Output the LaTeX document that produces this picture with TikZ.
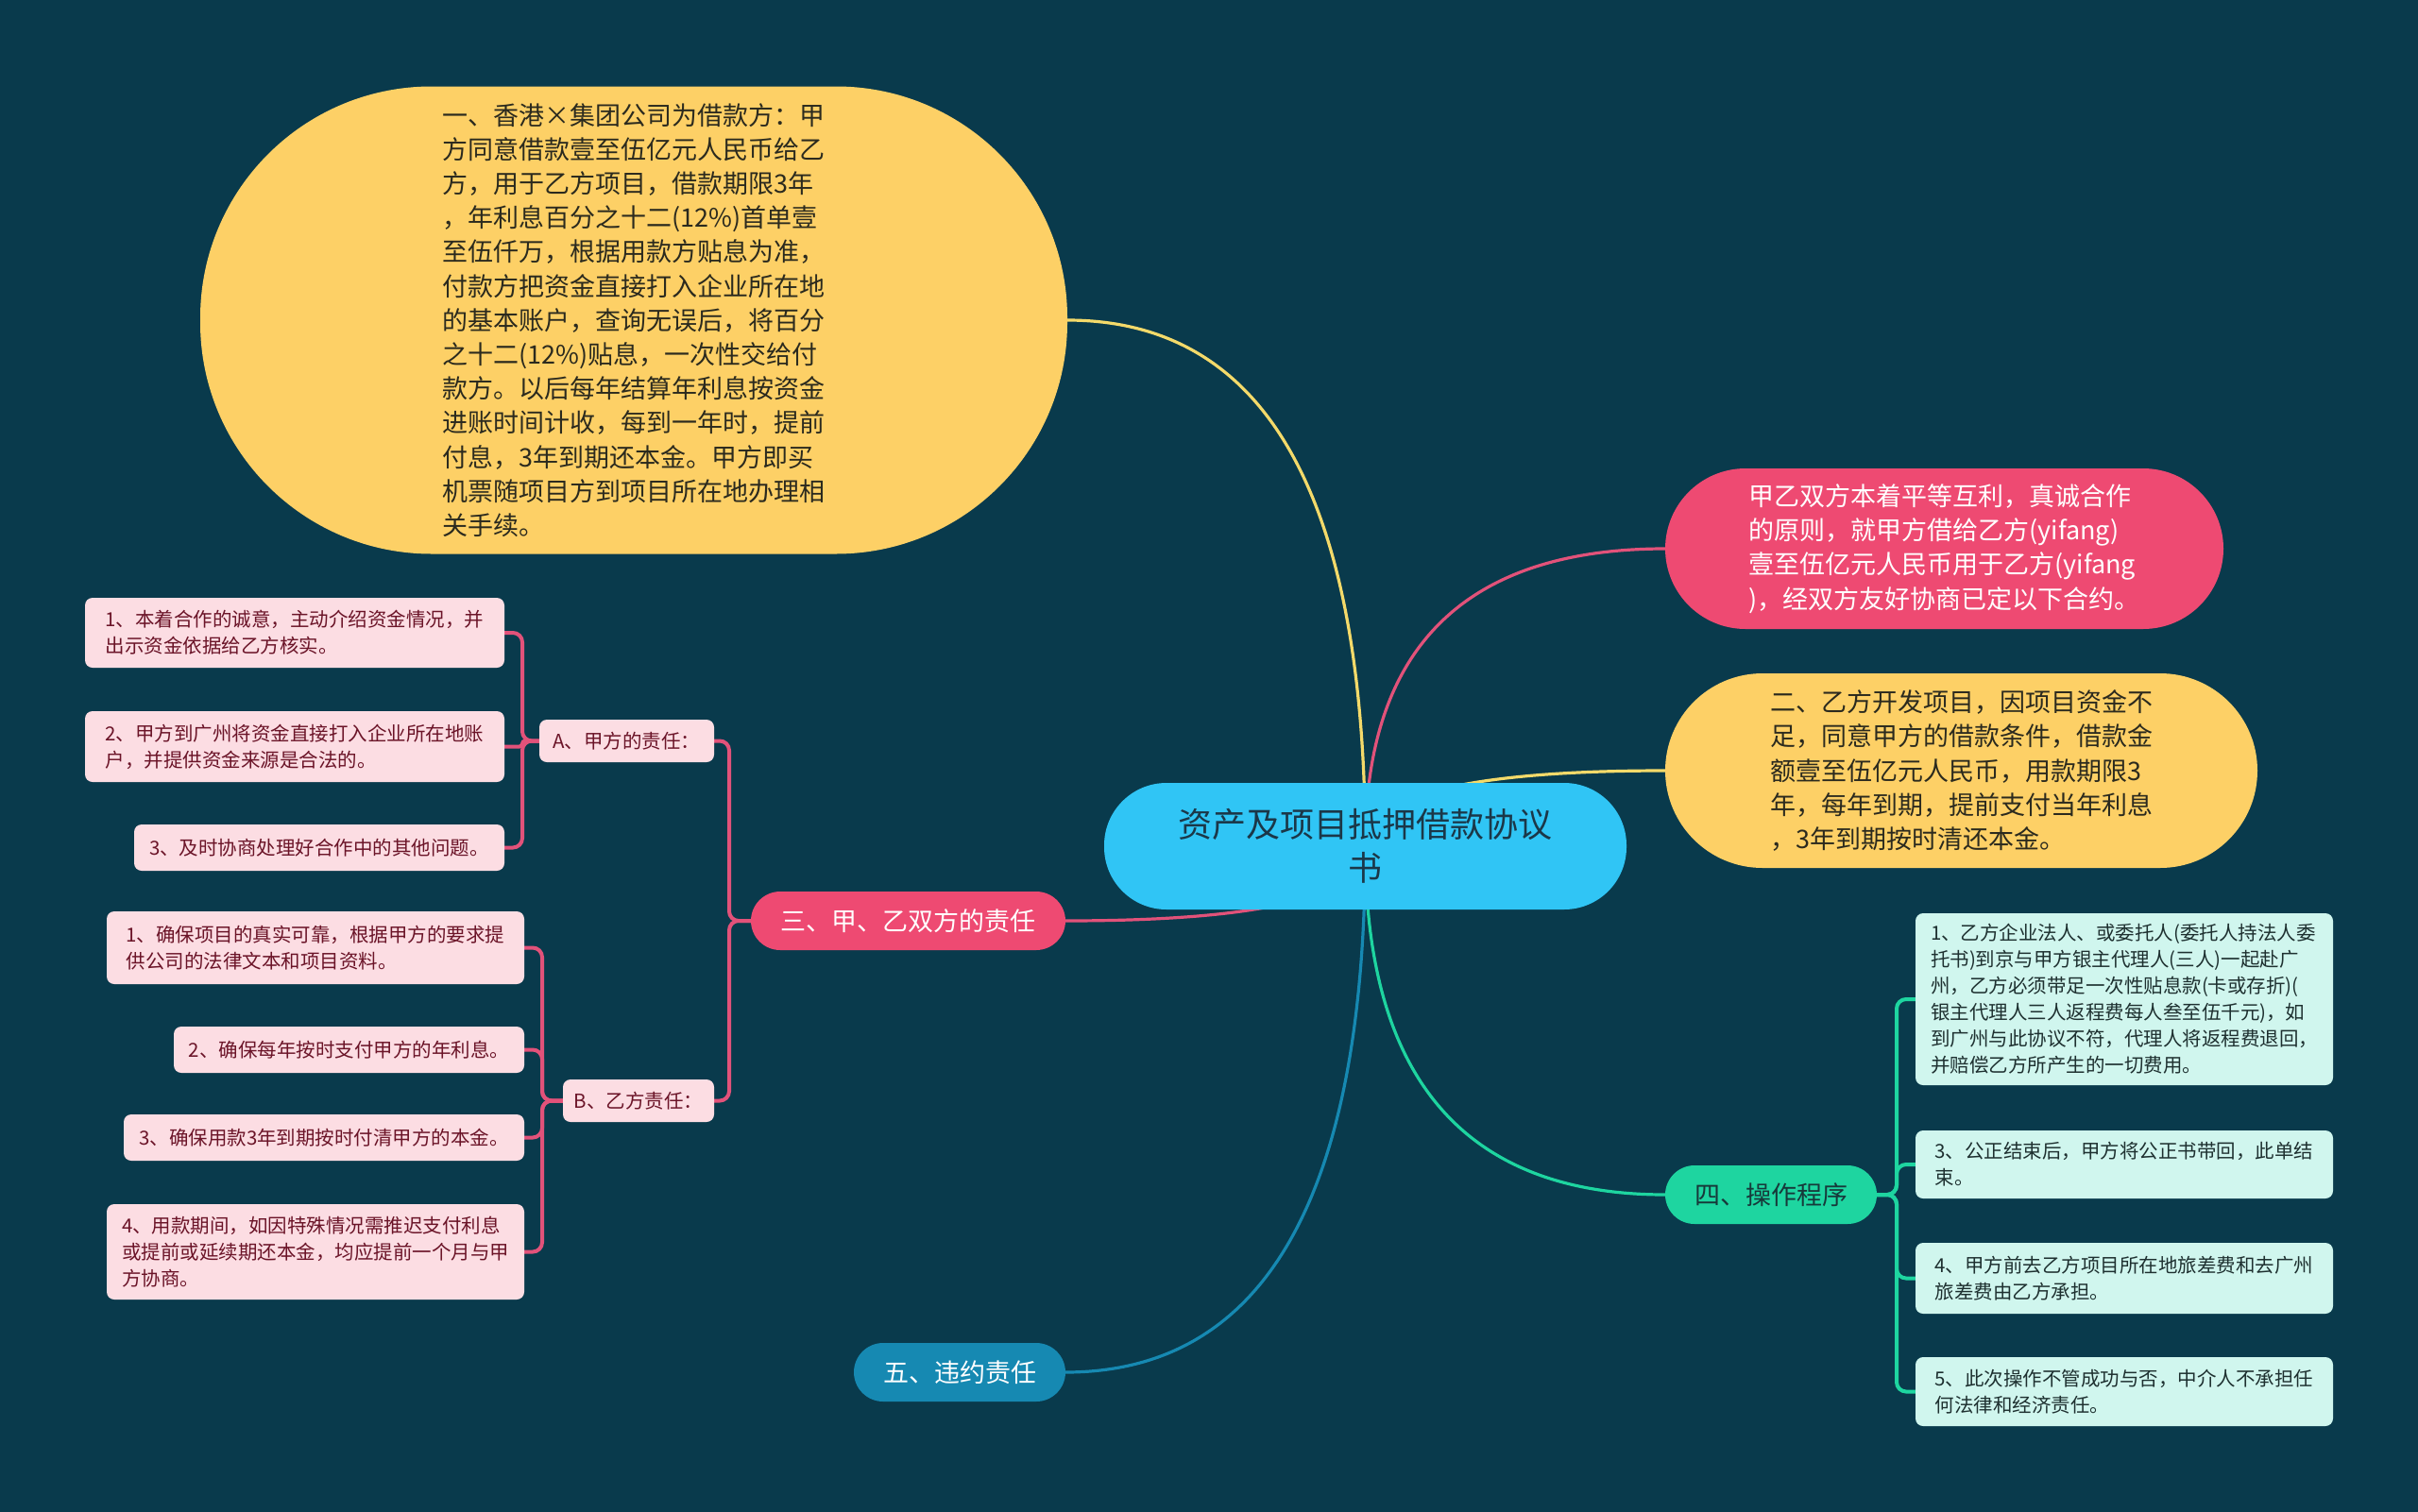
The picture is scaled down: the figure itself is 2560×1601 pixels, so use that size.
\documentclass[tikz,border=0pt]{standalone}
\usepackage{fontspec}
\setmainfont{Noto Sans CJK SC}
\usetikzlibrary{calc}
\definecolor{bgc}{HTML}{093A4C}
\definecolor{rootc}{HTML}{30C5F5}
\definecolor{roottxt}{HTML}{1B3748}
\definecolor{yelc}{HTML}{FDD066}
\definecolor{yeltxt}{HTML}{2B2A1E}
\definecolor{pinkc}{HTML}{EE4A72}
\definecolor{greenc}{HTML}{1ED5A0}
\definecolor{greentxt}{HTML}{17393A}
\definecolor{bluec}{HTML}{1689B2}
\definecolor{lpinkc}{HTML}{FCDDE3}
\definecolor{lpinktxt}{HTML}{6B1428}
\definecolor{mintc}{HTML}{D0F6EE}
\definecolor{minttxt}{HTML}{1E3030}
\definecolor{conY}{HTML}{F4DA6A}
\definecolor{conP}{HTML}{E2527A}
\definecolor{conG}{HTML}{1ED5A0}
\definecolor{conB}{HTML}{1689B2}
\pgfdeclarelayer{bglayer}
\pgfsetlayers{bglayer,main}
\tikzset{
  base/.style={inner sep=0pt, outer sep=0pt},
  rootnode/.style={base, fill=rootc, text=roottxt, align=center, rounded corners=66pt,
    minimum width=553pt, minimum height=134pt, font=\fontsize{36}{46}\selectfont},
  bigbox/.style={base, align=left, font=\fontsize{27}{36.2}\selectfont},
  lvltwo/.style={base, align=center, minimum height=62pt, rounded corners=31pt,
    font=\fontsize{27}{34}\selectfont},
  lvlthree/.style={base, align=left, rounded corners=8pt, font=\fontsize{20.5}{28}\selectfont},
  pinkleaf/.style={lvlthree, fill=lpinkc, text=lpinktxt},
  mintleaf/.style={lvlthree, fill=mintc, text=minttxt},
  mainlink/.style={line width=3.2pt, line cap=round},
  sublink/.style={line width=4pt, rounded corners=10pt},
}
\begin{document}
\begin{tikzpicture}[x=1pt,y=-1pt]
\useasboundingbox (0,0) rectangle (2560,1601);

% root
\node[rootnode] (root) at (1445.5,896) {资产及项目抵押借款协议\\书};

% level 1 big nodes
\node[bigbox, fill=yelc, text=yeltxt, minimum width=918pt, minimum height=495pt,
  rounded corners=245pt] (y1) at (671,339) {一、香港×集团公司为借款方：甲\\
方同意借款壹至伍亿元人民币给乙\\
方，用于乙方项目，借款期限3年\\
，年利息百分之十二(12\%)首单壹\\
至伍仟万，根据用款方贴息为准，\\
付款方把资金直接打入企业所在地\\
的基本账户，查询无误后，将百分\\
之十二(12\%)贴息，一次性交给付\\
款方。以后每年结算年利息按资金\\
进账时间计收，每到一年时，提前\\
付息，3年到期还本金。甲方即买\\
机票随项目方到项目所在地办理相\\
关手续。};

\node[bigbox, fill=pinkc, text=white, minimum width=591pt, minimum height=170pt,
  rounded corners=85pt] (p1) at (2058.5,581) {甲乙双方本着平等互利，真诚合作\\
的原则，就甲方借给乙方(yifang)\\
壹至伍亿元人民币用于乙方(yifang\\
)，经双方友好协商已定以下合约。};

\node[bigbox, fill=yelc, text=yeltxt, minimum width=627pt, minimum height=206pt,
  rounded corners=103pt] (y2) at (2076.5,816) {二、乙方开发项目，因项目资金不\\
足，同意甲方的借款条件，借款金\\
额壹至伍亿元人民币，用款期限3\\
年，每年到期，提前支付当年利息\\
，3年到期按时清还本金。};

% level 2
\node[lvltwo, fill=pinkc, text=white, minimum width=333pt] (l2a) at (961.5,975) {三、甲、乙双方的责任};
\node[lvltwo, fill=bluec, text=white, minimum width=224pt] (l2b) at (1016,1453) {五、违约责任};
\node[lvltwo, fill=greenc, text=greentxt, minimum width=224pt] (l2c) at (1875,1265) {四、操作程序};

% level 3 (pink)
\node[pinkleaf, minimum width=185pt, minimum height=45pt] (a) at (663.5,784.5) {A、甲方的责任：};
\node[pinkleaf, minimum width=160pt, minimum height=45pt] (b) at (676,1165.5) {B、乙方责任：};

\node[pinkleaf, minimum width=444pt, minimum height=74pt] (a1) at (312,670) {1、本着合作的诚意，主动介绍资金情况，并\\出示资金依据给乙方核实。};
\node[pinkleaf, minimum width=444pt, minimum height=75pt] (a2) at (312,790.5) {2、甲方到广州将资金直接打入企业所在地账\\户，并提供资金来源是合法的。};
\node[pinkleaf, minimum width=392pt, minimum height=49pt] (a3) at (338,897.5) {3、及时协商处理好合作中的其他问题。};

\node[pinkleaf, minimum width=442pt, minimum height=77pt] (b1) at (334,1003.5) {1、确保项目的真实可靠，根据甲方的要求提\\供公司的法律文本和项目资料。};
\node[pinkleaf, minimum width=371pt, minimum height=49pt] (b2) at (369.5,1111.5) {2、确保每年按时支付甲方的年利息。};
\node[pinkleaf, minimum width=424pt, minimum height=49pt] (b3) at (343,1204.5) {3、确保用款3年到期按时付清甲方的本金。};
\node[pinkleaf, minimum width=442pt, minimum height=101pt] (b4) at (334,1325.5) {4、用款期间，如因特殊情况需推迟支付利息\\或提前或延续期还本金，均应提前一个月与甲\\方协商。};

% level 3 (mint)
\node[mintleaf, minimum width=442pt, minimum height=182pt] (c1) at (2249,1058) {1、乙方企业法人、或委托人(委托人持法人委\\托书)到京与甲方银主代理人(三人)一起赴广\\州，乙方必须带足一次性贴息款(卡或存折)(\\银主代理人三人返程费每人叁至伍千元)，如\\到广州与此协议不符，代理人将返程费退回，\\并赔偿乙方所产生的一切费用。};
\node[mintleaf, minimum width=442pt, minimum height=72pt] (c3) at (2249,1233) {3、公正结束后，甲方将公正书带回，此单结\\束。};
\node[mintleaf, minimum width=442pt, minimum height=75pt] (c4) at (2249,1353.5) {4、甲方前去乙方项目所在地旅差费和去广州\\旅差费由乙方承担。};
\node[mintleaf, minimum width=442pt, minimum height=73pt] (c5) at (2249,1473.5) {5、此次操作不管成功与否，中介人不承担任\\何法律和经济责任。};

\begin{pgfonlayer}{bglayer}
\fill[bgc] (0,0) rectangle (2560,1601);
% main connectors
\draw[mainlink, conY] (root.center) .. controls (1445,525) and (1340,339) .. (y1.east);
\draw[mainlink, conP] (root.center) .. controls (1445,686) and (1551,581) .. (p1.west);
\draw[mainlink, conY] (root.center) .. controls (1445,843) and (1551,816) .. (y2.west);
\draw[mainlink, conP] (root.center) .. controls (1445,949) and (1339,975) .. (l2a.east);
\draw[mainlink, conB] (root.center) .. controls (1445,1267) and (1339,1453) .. (l2b.east);
\draw[mainlink, conG] (root.center) .. controls (1445,1142) and (1551,1265) .. (l2c.west);
% sub connectors
\draw[sublink, conP] (l2a.west) -- ++(-23,0) |- (a.east);
\draw[sublink, conP] (l2a.west) -- ++(-23,0) |- (b.east);
\draw[sublink, conP] (a.west) -- ++(-18,0) |- (a1.east);
\draw[sublink, conP, rounded corners=3pt] (a.west) -- ++(-18,0) |- (a2.east);
\draw[sublink, conP] (a.west) -- ++(-18,0) |- (a3.east);
\draw[sublink, conP] (b.west) -- ++(-22,0) |- (b1.east);
\draw[sublink, conP] (b.west) -- ++(-22,0) |- (b2.east);
\draw[sublink, conP] (b.west) -- ++(-22,0) |- (b3.east);
\draw[sublink, conP] (b.west) -- ++(-22,0) |- (b4.east);
\draw[sublink, conG] (l2c.east) -- ++(21,0) |- (c1.west);
\draw[sublink, conG] (l2c.east) -- ++(21,0) |- (c3.west);
\draw[sublink, conG] (l2c.east) -- ++(21,0) |- (c4.west);
\draw[sublink, conG] (l2c.east) -- ++(21,0) |- (c5.west);
\end{pgfonlayer}
\end{tikzpicture}
\end{document}
